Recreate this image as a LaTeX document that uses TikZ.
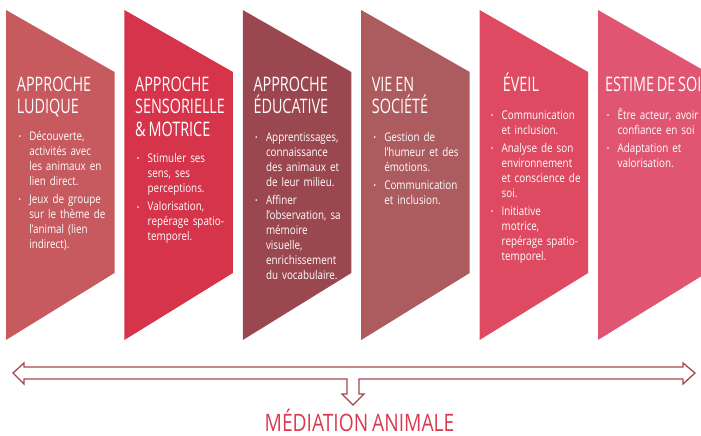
\documentclass[tikz,border=0pt]{standalone}
\usepackage{fontspec}
\setmainfont{Open Sans}[FakeStretch=0.82]
\newfontfamily\headfont{Open Sans}[FakeStretch=0.72]
\newfontfamily\titlefont{Open Sans}[FakeStretch=0.8]

\definecolor{ludique}{HTML}{C65A5E}
\definecolor{sensoriel}{HTML}{D6344A}
\definecolor{educatif}{HTML}{9B4750}
\definecolor{societe}{HTML}{AC5B5F}
\definecolor{eveil}{HTML}{DD4A62}
\definecolor{estime}{HTML}{E05672}
\definecolor{fleche}{HTML}{A3474E}
\definecolor{titre}{HTML}{D93A50}

% one bulleted point, text hanging after the bullet
\newcommand\point[1]{\hangindent=10.8pt\hangafter=0\noindent
    \llap{\makebox[10.8pt][l]{\raisebox{0.8pt}{\footnotesize •}}}#1\par}
% narrow word space for the headings
\newcommand\hs{\hspace{2.8pt}}

\begin{document}
\begin{tikzpicture}[x=1pt, y=-1pt,
        head/.style={anchor=base west, inner sep=0pt, text width=110pt, align=left,
            text=white, font=\headfont\fontsize{20}{22.5}\selectfont},
        body/.style={anchor=base west, inner sep=0pt, text width=110pt, align=left,
            text=white, font=\fontsize{12}{15}\selectfont\setlength\parskip{3.3pt}}]

    \useasboundingbox (0,0) rectangle (701,436);

    % the six chevrons
    \foreach \i/\c in {0/ludique,1/sensoriel,2/educatif,3/societe,4/eveil,5/estime}
        \fill[\c] ({6+118.4*\i},10) -- ++(108.5,62) -- ++(0,201) -- ++(-108.5,67) -- cycle;

    \node[head] (head1) at (16.7,91) {APPROCHE\\LUDIQUE};
    \node[body] (body1) at (18.3,140) {%
        \point{Découverte,\newline activités avec\newline les animaux en\newline lien direct.}
        \point{Jeux de groupe\newline sur le thème de\newline l’animal (lien\newline indirect).}};

    \node[head] (head2) at (135,91) {APPROCHE\\SENSORIELLE\\\&\hs MOTRICE};
    \node[body] (body2) at (136.7,162.5) {%
        \point{Stimuler ses\newline sens, ses\newline perceptions.}
        \point{Valorisation,\newline repérage spatio-\newline temporel.}};

    \node[head] (head3) at (253.3,91) {APPROCHE\\ÉDUCATIVE};
    \node[body] (body3) at (255,141) {%
        \point{Apprentissages,\newline connaissance\newline des animaux et\newline de leur milieu.}
        \point{Affiner\newline l’observation, sa\newline mémoire\newline visuelle,\newline enrichissement\newline du vocabulaire.}};

    \node[head] (head4) at (371.7,91) {VIE\hs EN\\SOCIÉTÉ};
    \node[body] (body4) at (373.3,141) {%
        \point{Gestion de\newline l’humeur et des\newline émotions.}
        \point{Communication\newline et inclusion.}};

    \node[head] (head5) at (502.7,91) {ÉVEIL};
    \node[body] (body5) at (490.7,119) {%
        \point{Communication\newline et inclusion.}
        \point{Analyse de son\newline environnement\newline et conscience de\newline soi.}
        \point{Initiative\newline motrice,\newline repérage spatio-\newline temporel.}};

    \node[head] (head6) at (605,91) {ESTIME\hs DE\hs SOI};
    \node[body] (body6) at (606.7,119) {%
        \point{Être acteur, avoir\newline confiance en soi}
        \point{Adaptation et\newline valorisation.}};

    % hollow double arrow with the branch pointing down
    \draw[fleche, line width=1.3pt, line join=miter, fill=white]
        (13,373) -- (24,363) -- (24,367) -- (683,367) -- (683,363) -- (695,373)
        -- (683,384) -- (683,379) -- (359,379) -- (359,394) -- (364,394)
        -- (353,405) -- (342,394) -- (347,394) -- (347,379) -- (24,379)
        -- (24,384) -- cycle;

    \node[anchor=base, inner sep=0pt, text=titre, font=\titlefont\fontsize{24}{24}\selectfont]
        (mediation) at (359.5,431.5) {MÉDIATION\hspace{4pt}ANIMALE};

\end{tikzpicture}
\end{document}
